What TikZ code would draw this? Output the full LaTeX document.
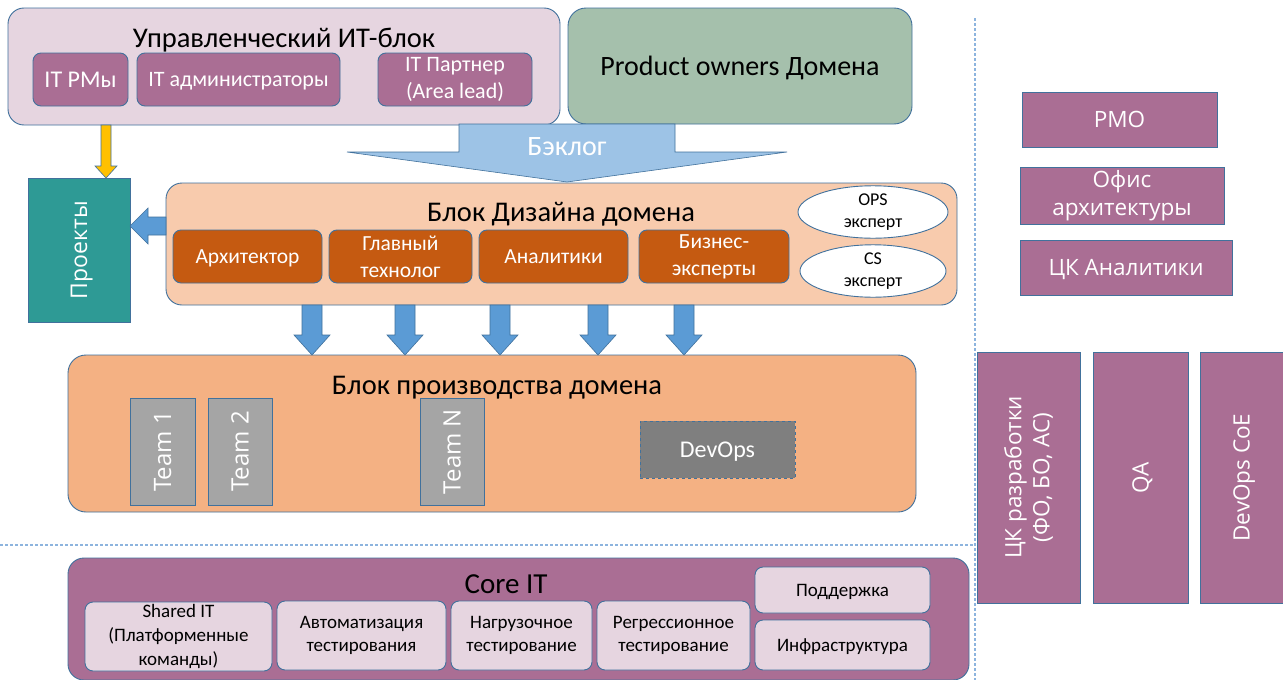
\documentclass[tikz,border=0pt]{standalone}
\usepackage{fontspec}
\setmainfont{Carlito}
\newfontfamily\osans{Open Sans}
\usetikzlibrary{shapes.geometric}
\definecolor{lilac}{HTML}{E6D5E0}
\definecolor{mauve}{HTML}{AA6E94}
\definecolor{sage}{HTML}{A5C0AC}
\definecolor{bord}{HTML}{41719C}
\definecolor{peach}{HTML}{F8CBAD}
\definecolor{peachd}{HTML}{F4B183}
\definecolor{rust}{HTML}{C55A11}
\definecolor{tealc}{HTML}{2E9A95}
\definecolor{lblue}{HTML}{9DC3E6}
\definecolor{sepc}{HTML}{8DB4DE}
\definecolor{mblue}{HTML}{5B9BD5}
\definecolor{gold}{HTML}{FFC000}
\definecolor{greyc}{HTML}{A5A5A5}
\definecolor{greyd}{HTML}{7F7F7F}
\newcommand\fs[1]{\fontsize{#1pt}{1.25\dimexpr #1pt\relax}\selectfont}
\newcommand\vfat[7]{\draw[#7] (#1-#4,#2) -- (#1+#4,#2) -- (#1+#4,#3-#6) -- (#1+#5,#3-#6) -- (#1,#3) -- (#1-#5,#3-#6) -- (#1-#4,#3-#6) -- cycle;}
\tikzset{
  box/.style={draw=bord, line width=0.9pt, rounded corners=#1, inner sep=0pt, align=center},
  box/.default=10pt,
  sl/.style={text depth=0pt},
  wsub/.style={box=8pt, fill=mauve, text=white, font=\fs{22}},
  rsub/.style={box=8pt, fill=rust, text=white, font=\fs{21.5}},
  csub/.style={box=8pt, fill=lilac, text=black, font=\fs{19}},
  team/.style={draw=bord, line width=0.9pt, fill=greyc, text=white, font=\osans\fs{24}, rotate=90, sl},
  rbox/.style={draw=bord, line width=0.9pt, fill=mauve, text=white, font=\osans\fs{22.5}, align=center, inner sep=0pt},
  ttl/.style={font=\fs{28.5}, text=black, sl},
  fat/.style={fill=mblue, draw=bord, line width=0.6pt},
  sep/.style={draw=sepc, line width=1.2pt, dash pattern=on 3pt off 2pt}
}
\begin{document}
\begin{tikzpicture}[x=1pt,y=-1pt]
\useasboundingbox (0,0) rectangle (1283,680);
\fill[white] (0,0) rectangle (1283,680);
% separators
\coordinate (hl) at (0,545);
\coordinate (hr) at (975,545);
\coordinate (vt) at (975,18);
\coordinate (vb) at (975,680);
\draw[sep] (hl) -- (hr);
\draw[sep] (vt) -- (vb);
% management block
\node[box=16pt, fill=lilac, minimum width=552, minimum height=117] (mgmt) at (284,66.5) {};
\node[ttl] (mgmtt) at (284,38) {Управленческий ИТ-блок};
\node[wsub, sl, minimum width=95, minimum height=53, font=\fs{24}] (pms) at (80.5,79.5) {IT PMы};
\node[wsub, sl, minimum width=203, minimum height=53] (adm) at (238.5,79.5) {IT администраторы};
\node[wsub, minimum width=154, minimum height=53] (prt) at (455,79.5) {IT Партнер\\(Area lead)};
% product owners
\node[box=18pt, sl, fill=sage, minimum width=344, minimum height=116, font=\fs{28}] (po) at (740,66) {Product owners Домена};
% backlog arrow
\draw[fill=lblue, draw=bord, line width=0.6pt] (459,124) -- (675,124) -- (675,152) -- (787,152) -- (567,182) -- (347,152) -- (459,152) -- cycle;
\node[sl, text=white, font=\fs{28}] (bkl) at (567,147) {Бэклог};
% projects
\node[draw=bord, line width=0.9pt, fill=tealc, minimum width=102, minimum height=144] (prj) at (79,250) {};
\node[sl, rotate=90, text=white, font=\osans\fs{23}] (prjt) at (prj.center) {Проекты};
% design block
\node[box=16pt, fill=peach, minimum width=791, minimum height=122] (des) at (561.5,244) {};
\node[ttl] (dest) at (561,212) {Блок Дизайна домена};
\node[rsub, sl, minimum width=149, minimum height=53] (arch) at (247.5,256.5) {Архитектор};
\node[rsub, minimum width=143, minimum height=53] (tech) at (400.5,256.5) {Главный\\технолог};
\node[rsub, sl, minimum width=149, minimum height=53] (anal) at (553.5,256.5) {Аналитики};
\node[rsub, minimum width=150, minimum height=53] (biz) at (714,256.5) {Бизнес-\\эксперты};
\node[ellipse, draw=bord, line width=0.9pt, fill=white, minimum width=150, minimum height=48, inner sep=0pt, align=center, font=\fs{18}] (ops) at (873,212) {OPS\\эксперт};
\node[ellipse, draw=bord, line width=0.9pt, fill=white, minimum width=146, minimum height=50, inner sep=0pt, align=center, font=\fs{18}] (cs) at (873,271) {CS\\эксперт};
% production block
\node[box=18pt, fill=peachd, minimum width=848, minimum height=157] (prod) at (492,433.5) {};
\node[ttl] (prodt) at (497,385) {Блок производства домена};
\node[team, minimum width=107, minimum height=65] (t1) at (162.5,451.5) {Team 1};
\node[team, minimum width=107, minimum height=64] (t2) at (240,451.5) {Team 2};
\node[team, minimum width=107, minimum height=64] (tn) at (452,451.5) {Team N};
\node[sl, draw=bord, line width=0.9pt, dashed, fill=greyd, text=white, minimum width=155, minimum height=57, font=\fs{24}] (dev) at (717.5,449.5) {DevOps};
% arrows
\vfat{106}{125}{178}{5}{11}{12}{fill=gold, draw=bord, line width=0.6pt}
\draw[fat] (166,217) -- (148,217) -- (148,208) -- (130,226) -- (148,244) -- (148,235) -- (166,235) -- cycle;
\vfat{312}{305}{355}{10}{18}{20}{fat}
\vfat{405}{305}{355}{10}{18}{20}{fat}
\vfat{500}{305}{355}{10}{18}{20}{fat}
\vfat{598}{305}{355}{10}{18}{20}{fat}
\vfat{684}{305}{355}{10}{18}{20}{fat}
% core IT
\node[box=16pt, fill=mauve, minimum width=901, minimum height=122] (core) at (518.5,619) {};
\node[sl, font=\fs{29}] (coret) at (506,584) {Core IT};
\node[csub, minimum width=187, minimum height=69] (shr) at (178.5,636.5) {Shared IT\\(Платформенные\\команды)};
\node[csub, minimum width=169, minimum height=69] (aut) at (361.5,635.5) {Автоматизация\\тестирования};
\node[csub, minimum width=141, minimum height=69] (load) at (521.5,635.5) {Нагрузочное\\тестирование};
\node[csub, minimum width=153, minimum height=69] (reg) at (673.5,635.5) {Регрессионное\\тестирование};
\node[csub, sl, minimum width=175, minimum height=46] (sup) at (842.5,590) {Поддержка};
\node[csub, sl, minimum width=175, minimum height=50] (inf) at (842.5,645) {Инфраструктура};
% right column
\node[rbox, sl, minimum width=195, minimum height=55] (pmo) at (1119.5,119.5) {PMO};
\node[rbox, minimum width=204, minimum height=57] (arco) at (1122,195.5) {Офис\\архитектуры};
\node[rbox, sl, minimum width=212, minimum height=55] (cka) at (1126,267.5) {ЦК Аналитики};
\node[rbox, rotate=90, minimum width=251, minimum height=103] (ckr) at (1028.5,477.5) {ЦК разработки\\(ФО, БО, АС)};
\node[rbox, sl, rotate=90, minimum width=251, minimum height=95] (qa) at (1140.5,477.5) {QA};
\node[rbox, sl, rotate=90, minimum width=251, minimum height=83] (dco) at (1241.5,477.5) {DevOps CoE};
\end{tikzpicture}
\end{document}
